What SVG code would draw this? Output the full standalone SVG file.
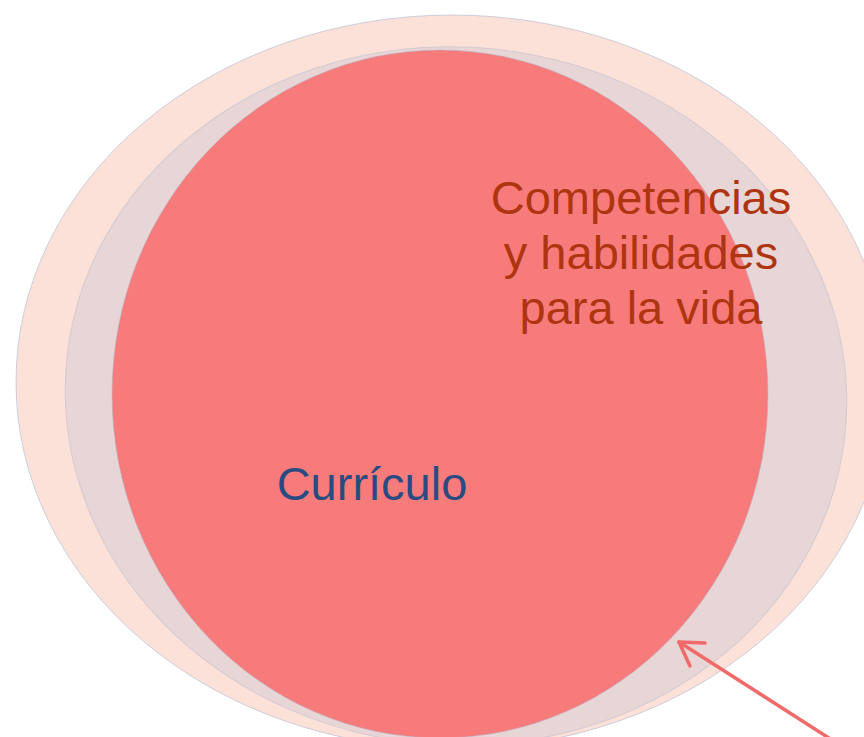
<svg xmlns="http://www.w3.org/2000/svg" width="864" height="737" viewBox="0 0 864 737">
  <style>
    .lbl { font-family: "Liberation Sans", Arial, sans-serif; text-anchor: middle; }
    .comp { fill: #AE3510; font-size: 47px; }
    .curr { fill: #2A4B82; font-size: 47px; }
    .arrow { stroke: #F06A6A; stroke-width: 3.5; fill: none; stroke-linecap: round; stroke-linejoin: round; }
  </style>
  <rect width="864" height="737" fill="#FFFFFF"/>
  <g id="outer">
    <ellipse cx="452" cy="382" rx="436" ry="367" fill="#FCE1D9" stroke="#AEB8D0" stroke-width="1" stroke-opacity="0.6"/>
  </g>
  <g id="middle">
    <ellipse cx="456" cy="396" rx="391" ry="349" transform="rotate(4 456 396)" fill="#E8D5D6" stroke="#B9BCD0" stroke-width="1" stroke-opacity="0.5"/>
  </g>
  <g id="inner">
    <ellipse cx="440" cy="394" rx="328" ry="344" fill="#F87B7B" stroke="#B0B6CC" stroke-width="1" stroke-opacity="0.5"/>
  </g>
  <g id="label-competencias">
    <text class="lbl comp" x="641" y="214">Competencias</text>
    <text class="lbl comp" x="641" y="269">y habilidades</text>
    <text class="lbl comp" x="641" y="324">para la vida</text>
  </g>
  <g id="label-curriculo">
    <text class="lbl curr" x="372" y="500">Currículo</text>
  </g>
  <g id="connectors">
    <line class="arrow" x1="832" y1="740" x2="679" y2="642"/>
    <polyline class="arrow" points="705,643 679,642 690,666"/>
  </g>
</svg>
